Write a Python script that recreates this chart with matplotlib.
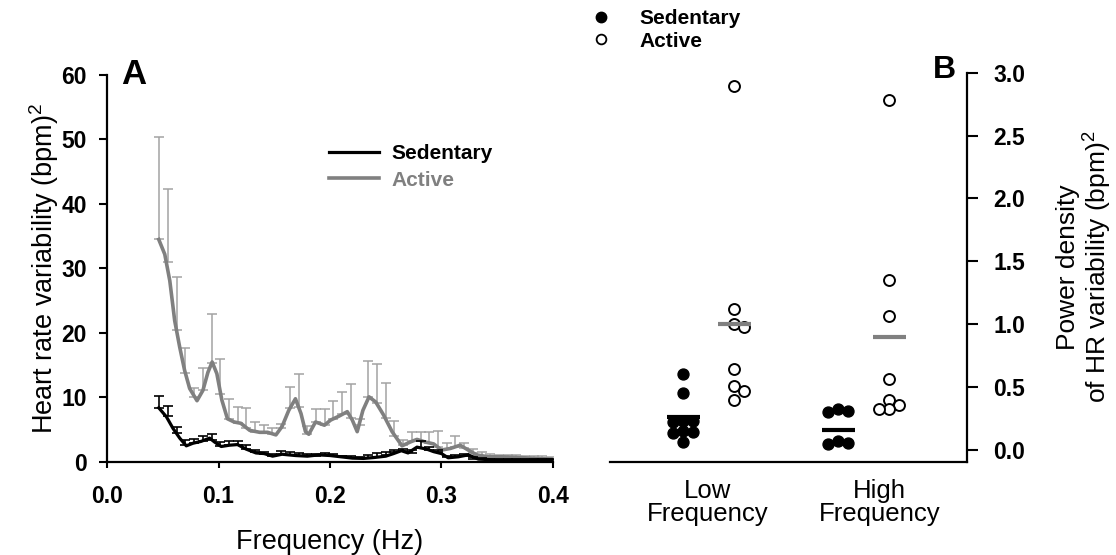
import numpy as np
import matplotlib.pyplot as plt
from matplotlib.lines import Line2D

plt.rcParams['font.family'] = ['Liberation Sans', 'DejaVu Sans']
plt.rcParams['mathtext.fontset'] = 'custom'
plt.rcParams['mathtext.rm'] = 'Liberation Sans'

# ---- panel A: spectra (traces) ----
act_trace_f = [0.0464, 0.0518, 0.0563, 0.0607, 0.0652, 0.0696, 0.0741, 0.0807, 0.086, 0.0905,
               0.0943, 0.0985, 0.103, 0.108, 0.114, 0.120, 0.128, 0.137, 0.144, 0.1515,
               0.157, 0.163, 0.169, 0.174, 0.178, 0.181, 0.187, 0.195, 0.2006, 0.208,
               0.2155, 0.220, 0.2244, 0.2295, 0.235, 0.241, 0.248, 0.2557, 0.2646, 0.272,
               0.278, 0.2854, 0.293, 0.300, 0.308, 0.3167, 0.324, 0.3315, 0.342, 0.354,
               0.369, 0.384, 0.3985]
act_trace_v = [34.5, 32.2, 28.1, 21.9, 17.8, 14.2, 11.4, 9.5, 11.1, 13.9,
               15.5, 13.7, 9.6, 6.7, 6.2, 6.0, 4.9, 4.6, 4.6, 4.2,
               5.5, 8.0, 9.8, 7.5, 4.7, 4.3, 6.2, 5.7, 6.5, 7.1,
               7.8, 6.5, 4.7, 8.0, 10.1, 9.3, 7.3, 4.7, 2.5, 3.1,
               3.5, 3.1, 2.8, 1.85, 2.1, 2.6, 1.85, 1.1, 0.8, 0.8,
               0.7, 0.55, 0.45]

sed_trace_f = [0.0464, 0.0533, 0.0592, 0.0652, 0.0711, 0.077, 0.0845, 0.092, 0.0964, 0.1024,
               0.1098, 0.117, 0.1247, 0.1336, 0.141, 0.1485, 0.157, 0.169, 0.1797, 0.19,
               0.20, 0.21, 0.22, 0.23, 0.24, 0.25, 0.257, 0.264, 0.27, 0.278,
               0.2866, 0.293, 0.300, 0.306, 0.315, 0.324, 0.333, 0.35, 0.37, 0.3985]
sed_trace_v = [8.4, 7.0, 5.2, 3.7, 2.5, 2.9, 3.2, 3.7, 3.1, 2.4,
               2.6, 2.7, 2.0, 1.4, 1.3, 0.9, 1.2, 1.0, 0.9, 1.1,
               1.0, 0.8, 0.6, 0.55, 0.7, 0.9, 1.3, 1.75, 1.4, 2.3,
               2.0, 1.6, 1.3, 0.65, 0.8, 1.1, 0.45, 0.3, 0.3, 0.35]

# spectral bins carrying SEM bars (1/128 Hz)
bin_f = [0.0469, 0.0547, 0.0625, 0.0703, 0.0781, 0.0859, 0.0938, 0.1016, 0.1094, 0.1172,
         0.1250, 0.1328, 0.1406, 0.1484, 0.1563, 0.1641, 0.1719, 0.1797, 0.1875, 0.1953,
         0.2031, 0.2109, 0.2188, 0.2266, 0.2344, 0.2422, 0.2500, 0.2578, 0.2656, 0.2734,
         0.2813, 0.2891, 0.2969, 0.3047, 0.3125, 0.3203, 0.3281, 0.3359, 0.3438, 0.3516,
         0.3594, 0.3672, 0.3750, 0.3828, 0.3906, 0.3984]
act_mean = [34.5, 31.0, 20.5, 13.8, 10.0, 11.1, 15.4, 10.5, 6.6, 6.1,
            5.3, 4.7, 4.6, 4.4, 5.3, 8.3, 8.6, 4.4, 6.2, 5.7,
            6.7, 7.4, 6.8, 5.8, 10.0, 9.1, 6.8, 4.1, 2.6, 3.2,
            3.3, 3.0, 2.3, 1.95, 2.35, 2.2, 1.45, 1.0, 0.8, 0.8,
            0.75, 0.7, 0.65, 0.55, 0.5, 0.45]
act_top = [50.4, 42.3, 28.7, 17.6, 11.4, 14.5, 23.0, 15.9, 9.7, 8.5,
           8.4, 6.2, 5.7, 5.2, 5.9, 11.6, 13.6, 5.6, 8.2, 8.2,
           9.5, 10.8, 12.1, 6.6, 15.6, 15.2, 12.2, 6.4, 3.4, 4.7,
           4.7, 4.7, 4.8, 2.9, 4.1, 3.0, 2.0, 1.6, 1.2, 1.1,
           1.1, 1.1, 1.0, 1.0, 1.0, 0.8]
sed_mean = [8.4, 7.1, 4.5, 2.6, 2.9, 3.3, 3.4, 2.5, 2.6, 2.7,
            2.0, 1.5, 1.3, 0.95, 1.2, 1.1, 1.0, 0.9, 1.0, 1.1,
            1.0, 0.85, 0.65, 0.55, 0.6, 0.8, 1.1, 1.5, 1.7, 1.4,
            2.2, 1.9, 1.5, 0.8, 0.75, 1.0, 0.5, 0.4, 0.35, 0.3,
            0.3, 0.3, 0.3, 0.3, 0.3, 0.35]
sed_top = [10.2, 8.7, 5.5, 3.4, 3.6, 4.0, 4.3, 3.1, 3.3, 3.3,
           2.6, 1.9, 1.6, 1.3, 1.7, 1.5, 1.4, 1.3, 1.3, 1.4,
           1.3, 1.0, 0.9, 0.8, 1.1, 1.4, 1.6, 1.9, 2.0, 1.8,
           3.3, 2.4, 1.8, 1.0, 1.1, 1.3, 0.7, 0.6, 0.5, 0.5,
           0.5, 0.5, 0.5, 0.5, 0.5, 0.5]

# ---- panel B: individual power densities ----
categories = ['Low\nFrequency', 'High\nFrequency']
sed_low = [0.605, 0.457, 0.235, 0.23, 0.225, 0.15, 0.145, 0.14, 0.062]
act_low = [2.89, 1.12, 1.0, 0.98, 0.643, 0.51, 0.47, 0.40]
sed_high = [0.33, 0.315, 0.30, 0.075, 0.06, 0.045]
act_high = [2.78, 1.355, 1.065, 0.564, 0.40, 0.36, 0.326, 0.326]
sed_means = [0.26, 0.16]
act_means = [1.0, 0.90]

GRAY = '#808080'
BAR_GRAY = '#a3a3a3'

fig = plt.figure(figsize=(11.16, 5.55), dpi=100)
axA = fig.add_axes([0.0959, 0.1676, 0.3996, 0.6973])
axB = fig.add_axes([0.5466, 0.1676, 0.3199, 0.7016])

# panel A
axA.errorbar(bin_f, act_mean, yerr=[np.zeros(len(act_mean)), np.array(act_top) - np.array(act_mean)],
             fmt='none', ecolor=BAR_GRAY, elinewidth=1.1, capsize=3.6, capthick=1.1, zorder=1)
axA.plot(act_trace_f, act_trace_v, color=GRAY, lw=2.6, zorder=2, solid_joinstyle='round')
axA.errorbar(bin_f, sed_mean, yerr=[np.zeros(len(sed_mean)), np.array(sed_top) - np.array(sed_mean)],
             fmt='none', ecolor='black', elinewidth=1.2, capsize=3.6, capthick=1.2, zorder=3)
axA.plot(sed_trace_f, sed_trace_v, color='black', lw=2.3, zorder=4, solid_joinstyle='round')

axA.set_xlim(0, 0.4)
axA.set_ylim(0, 60)
axA.set_xticks([0.0, 0.1, 0.2, 0.3, 0.4])
axA.set_xticklabels(['0.0', '0.1', '0.2', '0.3', '0.4'])
axA.set_yticks([0, 10, 20, 30, 40, 50, 60])
for s in ['top', 'right']:
    axA.spines[s].set_visible(False)
for s in ['left', 'bottom']:
    axA.spines[s].set_linewidth(1.6)
axA.tick_params(axis='y', direction='out', length=5.5, width=1.5, pad=9, labelsize=16.5)
axA.tick_params(axis='x', direction='out', length=4.5, width=1.5, pad=12, labelsize=16.5)
for lab in axA.get_xticklabels() + axA.get_yticklabels():
    lab.set_fontweight('bold')
axA.set_xlabel('Frequency (Hz)', fontsize=19.5, labelpad=15)
axA.set_ylabel('Heart rate variability (bpm)$^2$', fontsize=19.5, labelpad=0)

legA = axA.legend([Line2D([], [], color='black', lw=2.3), Line2D([], [], color=GRAY, lw=2.6)],
                  ['Sedentary', 'Active'], loc='upper left', frameon=False,
                  bbox_to_anchor=(328.6 / 1116, 1 - 144 / 555), bbox_transform=fig.transFigure,
                  borderaxespad=0, borderpad=0, handlelength=2.4, handletextpad=0.6,
                  labelspacing=0.37, prop={'weight': 'bold', 'size': 15})
legA.get_texts()[1].set_color(GRAY)

# panel B
xlimB = (0.3626, 2.666)
ylimB = (-0.094, 3.0)
ppx = 0.3199 * 1116 / (xlimB[1] - xlimB[0])
ppy = 0.7016 * 555 / (ylimB[1] - ylimB[0])


def swarm(vals, center, step=10.0, mind=9.0):
    placed = []
    for v in vals:
        for k in [0, 1, -1, 2, -2, 3, -3]:
            x = center + k * step / ppx
            if all(np.hypot((x - px) * ppx, (v - py) * ppy) >= mind for px, py in placed):
                break
        placed.append((x, v))
    return [p[0] for p in placed]


off = 0.1645
groups = [(sed_low, 1 - off, True), (act_low, 1 + off, False),
          (sed_high, 2 - off, True), (act_high, 2 + off, False)]
for vals, c, filled in groups:
    xs = swarm(vals, c)
    if filled:
        axB.scatter(xs, vals, s=62, color='black', edgecolors='black', linewidths=1.0, zorder=3, clip_on=False)
    else:
        axB.scatter(xs, vals, s=62, facecolors='white', edgecolors='black', linewidths=1.4, zorder=3, clip_on=False)

hw = 0.108
for i, m in enumerate(sed_means):
    axB.plot([i + 1 - off - hw, i + 1 - off + hw], [m, m], color='black', lw=3, zorder=4, solid_capstyle='butt')
for i, m in enumerate(act_means):
    axB.plot([i + 1 + off - hw, i + 1 + off + hw], [m, m], color=GRAY, lw=3, zorder=4, solid_capstyle='butt')

axB.set_xlim(*xlimB)
axB.set_ylim(*ylimB)
axB.set_xticks([0.99, 2.1])
axB.set_xticklabels(categories, fontsize=18.5, linespacing=0.95)
axB.tick_params(axis='x', length=0, pad=12)
axB.yaxis.tick_right()
axB.yaxis.set_label_position('right')
axB.set_yticks([0.0, 0.5, 1.0, 1.5, 2.0, 2.5, 3.0])
axB.set_yticklabels(['0.0', '0.5', '1.0', '1.5', '2.0', '2.5', '3.0'])
axB.tick_params(axis='y', direction='out', length=8, width=1.5, pad=11, labelsize=16.5)
for lab in axB.get_yticklabels():
    lab.set_fontweight('bold')
for s in ['top', 'left']:
    axB.spines[s].set_visible(False)
for s in ['right', 'bottom']:
    axB.spines[s].set_linewidth(1.6)
axB.set_ylabel('Power density\nof HR variability (bpm)$^2$', fontsize=19, labelpad=22, linespacing=1.0)

legB = axB.legend([Line2D([], [], marker='o', ls='none', color='black', markersize=7.5),
                   Line2D([], [], marker='o', ls='none', markerfacecolor='white',
                          markeredgecolor='black', markeredgewidth=1.3, markersize=7)],
                  ['Sedentary', 'Active'], loc='upper left', frameon=False,
                  bbox_to_anchor=(591 / 1116, 1 - 9.5 / 555), bbox_transform=fig.transFigure,
                  borderaxespad=0, borderpad=0, handlelength=1.0, handletextpad=1.34,
                  labelspacing=0.15, prop={'weight': 'bold', 'size': 15})

fig.text(134 / 1116, 1 - 75 / 555, 'A', fontsize=25, fontweight='bold', ha='center', va='center')
fig.text(944 / 1116, 1 - 70 / 555, 'B', fontsize=23, fontweight='bold', ha='center', va='center')

fig.savefig('out.png', dpi=100)
